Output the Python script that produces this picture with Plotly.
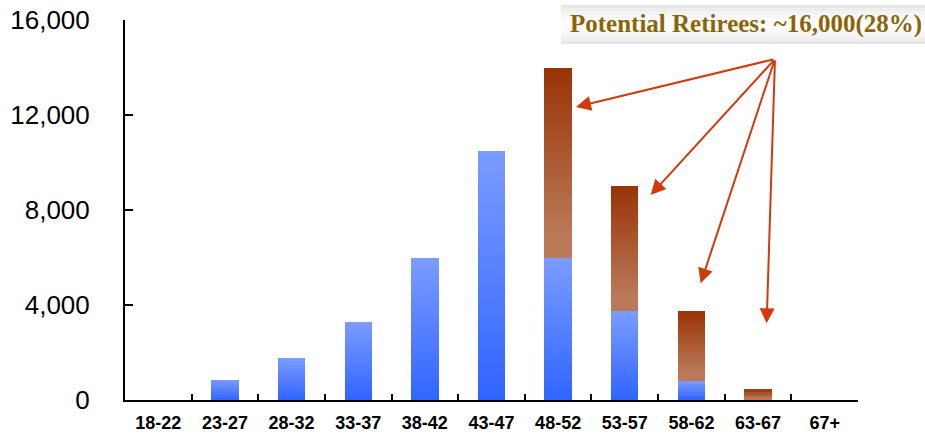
import plotly.graph_objects as go

# ---- data ----
age_groups = ["18-22", "23-27", "28-32", "33-37", "38-42", "43-47",
              "48-52", "53-57", "58-62", "63-67", "67+"]
current_staff = [0, 850, 1750, 3300, 6000, 10500, 6000, 3750, 800, 0, 0]
potential_retirees = [0, 0, 0, 0, 0, 0, 8000, 5250, 2950, 450, 0]
y_ticks = [0, 4000, 8000, 12000, 16000]
title_text = "Potential Retirees: ~16,000(28%)"

# ---- styling helpers ----
BLUE_LIGHT = (0x7B, 0x9C, 0xFF)
BLUE_DARK = (0x30, 0x64, 0xFF)
BROWN_DARK = (0x99, 0x33, 0x05)
BROWN_LIGHT = (0xBA, 0x79, 0x58)
SLICE = 110.0  # data units per gradient slice


def mix(c1, c2, t):
    t = max(0.0, min(1.0, t))
    return "rgb(%d,%d,%d)" % tuple(round(a + (b - a) * t) for a, b in zip(c1, c2))


def blue_color(frac_from_bottom):
    return mix(BLUE_DARK, BLUE_LIGHT, frac_from_bottom)


def brown_color(frac_from_bottom):
    t_top = 1 - frac_from_bottom
    return mix(BROWN_DARK, BROWN_LIGHT, t_top / 0.88)


fig = go.Figure()
n = len(age_groups)


def add_gradient(bases, heights, color_fn):
    nslices = [max(1, int(round(h / SLICE))) if h > 0 else 0 for h in heights]
    mx = max(nslices)
    for k in range(mx):
        b_list, h_list, c_list = [], [], []
        for i in range(n):
            ns = nslices[i]
            if k < ns:
                step = heights[i] / ns
                b_list.append(bases[i] + step * k)
                h_list.append(step)
                c_list.append(color_fn((k + 0.5) / ns))
            else:
                b_list.append(0)
                h_list.append(0)
                c_list.append("rgba(0,0,0,0)")
        fig.add_trace(go.Bar(
            x=age_groups, y=h_list, base=b_list,
            marker=dict(color=c_list, line=dict(width=0)),
            width=0.41, showlegend=False, hoverinfo="skip",
        ))


add_gradient([0] * n, current_staff, blue_color)
add_gradient(current_staff, potential_retirees, brown_color)

fig.update_layout(
    barmode="overlay",
    width=925, height=434,
    margin=dict(l=125, r=67, t=20, b=34),
    plot_bgcolor="white", paper_bgcolor="white",
    bargap=0,
)
fig.update_xaxes(
    type="category", range=[-0.5, 10.5], automargin=False,
    showline=True, linecolor="black", linewidth=2,
    ticks="inside", tickson="boundaries", ticklen=6, tickcolor="black", tickwidth=1.5,
    tickfont=dict(family="Liberation Sans", size=18, color="black", weight="bold"),
    ticklabelstandoff=5,
    showgrid=False, zeroline=False,
)
fig.update_yaxes(
    range=[0, 16000], tickvals=y_ticks, automargin=False,
    ticktext=[f"{v:,}" for v in y_ticks],
    showline=True, linecolor="black", linewidth=2,
    ticks="inside", ticklen=8, tickcolor="black", tickwidth=1.5,
    tickfont=dict(family="Liberation Sans", size=26, color="black"),
    ticklabelstandoff=28,
    showgrid=False, zeroline=False,
)

# title box with soft vertical gradient
box_x0, box_x1 = (561 - 125) / 733, (925 - 125) / 733
box_y0, box_y1 = (400 - 44) / 380, (400 - 5) / 380
strips = 12
for s in range(strips):
    t = (s + 0.5) / strips
    d = abs(t - 0.5) * 2
    g = round(255 - 28 * d ** 1.5)
    fig.add_shape(type="rect", xref="paper", yref="paper",
                  x0=box_x0, x1=box_x1,
                  y0=box_y0 + (box_y1 - box_y0) * s / strips,
                  y1=box_y0 + (box_y1 - box_y0) * (s + 1) / strips,
                  fillcolor=f"rgb({g},{g},{g})", line=dict(width=0), layer="above")

fig.add_annotation(
    xref="paper", yref="paper",
    x=(746 - 125) / 733, y=(400 - 24.5) / 380,
    text=f"<b>{title_text}</b>", showarrow=False,
    font=dict(family="Liberation Serif", size=25, color="#8B6509"),
    xanchor="center", yanchor="middle",
)

# arrows
tail = (9.254, 14358)
heads = [(6.268, 12337), (7.389, 8632), (8.139, 4912), (9.129, 3228)]
for hx, hy in heads:
    fig.add_annotation(
        x=hx, y=hy, xref="x", yref="y",
        ax=tail[0], ay=tail[1], axref="x", ayref="y",
        showarrow=True, arrowhead=2, arrowsize=1.5, arrowwidth=2,
        arrowcolor="#D23A0C", text="",
    )

fig.write_html("out.html")
